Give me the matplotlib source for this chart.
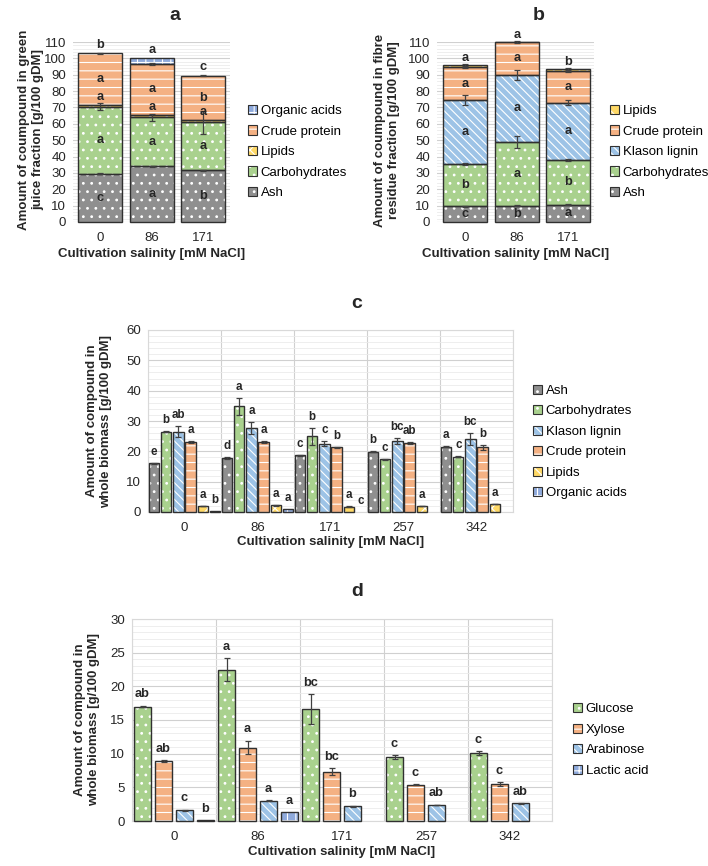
import matplotlib
matplotlib.use('Agg')
import matplotlib.pyplot as plt
from matplotlib.patches import Patch
from matplotlib.ticker import MultipleLocator
import numpy as np

plt.rcParams['font.family'] = ['Liberation Sans', 'DejaVu Sans']
plt.rcParams['hatch.linewidth'] = 0.8

# ---- panel a: green juice fraction (stacked) ----
salinity_ab = ['0', '86', '171']
juice_ash = [29.5, 34.0, 31.5]
juice_carbs = [41.0, 30.0, 29.5]
juice_lipids = [1.2, 1.5, 1.5]
juice_protein = [31.3, 31.0, 27.0]
juice_acids = [0.0, 3.5, 0.0]
juice_ash_err = [0.3, 0.3, 0.3]
juice_carbs_err = [2.0, 2.0, 7.0]
juice_protein_err = [0.5, 0.8, 0.5]
juice_ash_let = ['c', 'a', 'b']
juice_carbs_let = ['a', 'a', 'a']
juice_lipids_let = ['a', 'a', 'a']
juice_protein_let = ['a', 'a', 'b']
juice_top_let = ['b', 'a', 'c']

# ---- panel b: fibre residue fraction (stacked) ----
fibre_ash = [9.5, 10.0, 10.5]
fibre_carbs = [26.0, 39.0, 27.5]
fibre_klason = [39.0, 41.0, 35.0]
fibre_protein = [20.0, 20.0, 19.0]
fibre_lipids = [1.5, 0.3, 1.5]
fibre_ash_err = [0.3, 0.3, 0.3]
fibre_carbs_err = [0.4, 3.5, 0.5]
fibre_klason_err = [3.0, 3.0, 1.5]
fibre_protein_err = [0.3, 0.7, 0.3]
fibre_lipids_err = [0.5, 0.0, 0.5]
fibre_ash_let = ['c', 'b', 'a']
fibre_carbs_let = ['b', 'a', 'b']
fibre_klason_let = ['a', 'a', 'a']
fibre_protein_let = ['a', 'a', 'a']
fibre_lipids_let = ['a', 'a', 'b']

# ---- panel c: whole biomass composition ----
salinity_cd = ['0', '86', '171', '257', '342']
c_names = ['Ash', 'Carbohydrates', 'Klason lignin', 'Crude protein', 'Lipids', 'Organic acids']
c_vals = [
    [16.0, 17.8, 18.7, 19.9, 21.5],
    [26.5, 34.8, 25.0, 17.4, 18.2],
    [26.5, 27.8, 22.5, 23.5, 24.0],
    [23.0, 23.0, 21.3, 22.7, 21.3],
    [2.0, 2.2, 1.8, 2.0, 2.6],
    [0.2, 1.1, 0.0, 0.0, 0.0],
]
c_errs = [
    [0.2, 0.2, 0.2, 0.2, 0.2],
    [0.2, 2.8, 2.8, 0.2, 0.2],
    [1.8, 2.0, 0.8, 1.0, 2.0],
    [0.3, 0.3, 0.2, 0.3, 0.8],
    [0.1, 0.1, 0.1, 0.1, 0.1],
    [0.0, 0.0, 0.0, 0.0, 0.0],
]
c_lets = [
    ['e', 'd', 'c', 'b', 'a'],
    ['b', 'a', 'b', 'c', 'c'],
    ['ab', 'a', 'c', 'bc', 'bc'],
    ['a', 'a', 'b', 'ab', 'b'],
    ['a', 'a', 'a', 'a', 'a'],
    ['b', 'a', 'c', '', ''],
]

# ---- panel d: sugars in whole biomass ----
d_names = ['Glucose', 'Xylose', 'Arabinose', 'Lactic acid']
d_vals = [
    [17.0, 22.5, 16.6, 9.5, 10.05],
    [8.9, 10.9, 7.3, 5.4, 5.5],
    [1.6, 3.0, 2.2, 2.4, 2.6],
    [0.1, 1.3, 0.0, 0.0, 0.0],
]
d_errs = [
    [0.1, 1.7, 2.2, 0.3, 0.3],
    [0.1, 1.0, 0.5, 0.1, 0.3],
    [0.05, 0.1, 0.05, 0.05, 0.05],
    [0.0, 0.0, 0.0, 0.0, 0.0],
]
d_lets = [
    ['ab', 'a', 'bc', 'c', 'c'],
    ['ab', 'a', 'bc', 'c', 'c'],
    ['c', 'a', 'b', 'ab', 'ab'],
    ['b', 'a', '', '', ''],
]

# styles (colour, hatch)
sty = {
    'Ash': ('#8f8f8f', '..'),
    'Carbohydrates': ('#a9d18e', '..'),
    'Klason lignin': ('#9dc3e6', '\\\\\\\\'),
    'Crude protein': ('#f4b183', '--'),
    'Lipids': ('#ffd966', 'xx'),
    'Organic acids': ('#8faadc', '++'),
    'Glucose': ('#a9d18e', '..'),
    'Xylose': ('#f4b183', '--'),
    'Arabinose': ('#9dc3e6', '\\\\\\\\'),
    'Lactic acid': ('#8faadc', '++'),
}
EDGE = '#303030'
TXT = '#262626'


def hbar(ax, x, h, w, name, bottom=0):
    col, hat = sty[name]
    x = np.asarray(x, float)
    h = np.asarray(h, float)
    bottom = np.broadcast_to(np.asarray(bottom, float), h.shape)
    keep = h > 0
    if not keep.any():
        return
    ax.bar(x[keep], h[keep], w, bottom=bottom[keep], color=col, hatch=hat,
           edgecolor='white', linewidth=0, zorder=2, clip_on=False)
    ax.bar(x[keep], h[keep], w, bottom=bottom[keep], fill=False, edgecolor=EDGE,
           linewidth=1.0, zorder=3, clip_on=False)


def handle(name):
    col, hat = sty[name]
    return (Patch(facecolor=col, hatch=hat, edgecolor='white', linewidth=0),
            Patch(fill=False, edgecolor=EDGE, linewidth=0.8))


def style_axes(ax, major, minor, box):
    ax.set_axisbelow(True)
    ax.yaxis.set_major_locator(MultipleLocator(major))
    ax.yaxis.set_minor_locator(MultipleLocator(minor))
    ax.grid(axis='y', which='major', color='#d0d0d0', linewidth=0.8)
    ax.grid(axis='y', which='minor', color='#ebebeb', linewidth=0.6)
    ax.tick_params(which='both', length=0, labelsize=9.5, colors=TXT)
    ax.tick_params(axis='y', pad=5)
    ax.tick_params(axis='x', pad=7)
    for s in ax.spines.values():
        s.set_visible(box)
        s.set_color('#d9d9d9')


def err(ax, x, y, e):
    e = np.asarray(e, float)
    keep = e > 0
    if not keep.any():
        return
    ax.errorbar(np.asarray(x)[keep], np.asarray(y)[keep], yerr=e[keep], fmt='none',
                ecolor='#404040', elinewidth=0.9, capsize=2.5, capthick=0.9,
                zorder=4, clip_on=False)


def letter(ax, x, y, s, size=9.2):
    ax.text(x, y, s, ha='center', va='center', fontsize=size,
            fontweight='bold', color=TXT, zorder=5)


fig = plt.figure(figsize=(7.08, 8.66), dpi=100)


def frac(l, t, r, b):
    return [l / 708, 1 - b / 866, (r - l) / 708, (b - t) / 866]


ax_a = fig.add_axes(frac(73, 42, 230, 222))
ax_b = fig.add_axes(frac(437, 42, 594, 222))
ax_c = fig.add_axes(frac(148, 330, 513, 512))
ax_d = fig.add_axes(frac(132, 619, 552, 821))

xlab = 'Cultivation salinity [mM NaCl]'
W = 0.85
leg_kw = dict(loc='center left', bbox_transform=fig.transFigure, frameon=False,
              fontsize=9.5, handlelength=0.7, handleheight=0.7, handletextpad=0.25,
              labelspacing=0.62, borderpad=0, borderaxespad=0)

# ---- a ----
x = np.arange(len(salinity_ab))
a1 = np.array(juice_ash)
a2 = a1 + juice_carbs
a3 = a2 + juice_lipids
a4 = a3 + juice_protein
a5 = a4 + juice_acids
hbar(ax_a, x, juice_ash, W, 'Ash')
hbar(ax_a, x, juice_carbs, W, 'Carbohydrates', a1)
hbar(ax_a, x, juice_lipids, W, 'Lipids', a2)
hbar(ax_a, x, juice_protein, W, 'Crude protein', a3)
hbar(ax_a, x, juice_acids, W, 'Organic acids', a4)
err(ax_a, x, a1, juice_ash_err)
err(ax_a, x, a2, juice_carbs_err)
err(ax_a, x, a4, juice_protein_err)
for i in range(len(x)):
    letter(ax_a, x[i], a1[i] / 2, juice_ash_let[i])
    letter(ax_a, x[i], (a1[i] + a2[i]) / 2, juice_carbs_let[i])
    letter(ax_a, x[i], a3[i] + 4.5, juice_lipids_let[i])
    letter(ax_a, x[i], (a3[i] + a4[i]) / 2, juice_protein_let[i])
    letter(ax_a, x[i], a5[i] + 5, juice_top_let[i])
ax_a.set_ylim(0, 110)
ax_a.set_xlim(-0.53, 2.52)
ax_a.set_xticks(x, salinity_ab)
style_axes(ax_a, 10, 2, False)
ax_a.set_xlabel(xlab, fontsize=9.5, fontweight='bold', color=TXT, labelpad=3)
names_a = ['Organic acids', 'Crude protein', 'Lipids', 'Carbohydrates', 'Ash']
ax_a.legend([handle(n) for n in names_a], names_a,
            bbox_to_anchor=(248 / 708, 1 - 152 / 866), **leg_kw)
fig.text(31 / 708, 1 - 130 / 866, 'Amount of coumpound in green\njuice fraction [g/100 gDM]',
         rotation=90, ha='center', va='center', fontsize=9.5, fontweight='bold',
         color=TXT, multialignment='center')
fig.text(175 / 708, 1 - 15 / 866, 'a', ha='center', va='center', fontsize=14,
         fontweight='bold', color=TXT)

# ---- b ----
b1 = np.array(fibre_ash)
b2 = b1 + fibre_carbs
b3 = b2 + fibre_klason
b4 = b3 + fibre_protein
b5 = b4 + fibre_lipids
hbar(ax_b, x, fibre_ash, W, 'Ash')
hbar(ax_b, x, fibre_carbs, W, 'Carbohydrates', b1)
hbar(ax_b, x, fibre_klason, W, 'Klason lignin', b2)
hbar(ax_b, x, fibre_protein, W, 'Crude protein', b3)
hbar(ax_b, x, fibre_lipids, W, 'Lipids', b4)
err(ax_b, x, b1, fibre_ash_err)
err(ax_b, x, b2, fibre_carbs_err)
err(ax_b, x, b3, fibre_klason_err)
err(ax_b, x, b4, fibre_protein_err)
err(ax_b, x, b5, fibre_lipids_err)
for i in range(len(x)):
    letter(ax_b, x[i], b1[i] / 2, fibre_ash_let[i])
    letter(ax_b, x[i], (b1[i] + b2[i]) / 2, fibre_carbs_let[i])
    letter(ax_b, x[i], (b2[i] + b3[i]) / 2, fibre_klason_let[i])
    letter(ax_b, x[i], (b3[i] + b4[i]) / 2, fibre_protein_let[i])
    letter(ax_b, x[i], b5[i] + 4, fibre_lipids_let[i])
ax_b.set_ylim(0, 110)
ax_b.set_xlim(-0.55, 2.5)
ax_b.set_xticks(x, salinity_ab)
style_axes(ax_b, 10, 2, False)
ax_b.set_xlabel(xlab, fontsize=9.5, fontweight='bold', color=TXT, labelpad=3)
names_b = ['Lipids', 'Crude protein', 'Klason lignin', 'Carbohydrates', 'Ash']
ax_b.legend([handle(n) for n in names_b], names_b,
            bbox_to_anchor=(610 / 708, 1 - 152 / 866), **leg_kw)
fig.text(387 / 708, 1 - 130 / 866, 'Amount of coumpound in fibre\nresidue fraction [g/100 gDM]',
         rotation=90, ha='center', va='center', fontsize=9.5, fontweight='bold',
         color=TXT, multialignment='center')
fig.text(539 / 708, 1 - 15 / 866, 'b', ha='center', va='center', fontsize=14,
         fontweight='bold', color=TXT)

# ---- c ----
xc = np.arange(len(salinity_cd))
nc = len(c_names)
slot = 1.0 / nc
for k in range(nc):
    xs = xc + (k - (nc - 1) / 2) * slot
    hbar(ax_c, xs, c_vals[k], slot * 0.86, c_names[k])
    err(ax_c, xs, c_vals[k], c_errs[k])
    for i in range(len(xc)):
        letter(ax_c, xs[i], c_vals[k][i] + c_errs[k][i] + 3.6, c_lets[k][i], 8.4)
ax_c.set_ylim(0, 60)
ax_c.set_xlim(-0.5, len(xc) - 0.5)
ax_c.set_xticks(xc, salinity_cd)
ax_c.set_xticks(np.arange(-0.5, len(xc), 1), minor=True)
style_axes(ax_c, 10, 2, True)
ax_c.grid(axis='x', which='minor', color='#d0d0d0', linewidth=0.8)
ax_c.set_xlabel(xlab, fontsize=9.5, fontweight='bold', color=TXT, labelpad=2)
ax_c.legend([handle(n) for n in c_names], c_names,
            bbox_to_anchor=(533 / 708, 1 - 442 / 866), **leg_kw)
fig.text(99 / 708, 1 - 421 / 866, 'Amount of compound in\nwhole biomass [g/100 gDM]',
         rotation=90, ha='center', va='center', fontsize=9.5, fontweight='bold',
         color=TXT, multialignment='center')
fig.text(357 / 708, 1 - 303 / 866, 'c', ha='center', va='center', fontsize=14,
         fontweight='bold', color=TXT)

# ---- d ----
nd = len(d_names)
slot = 1.0 / nd
for k in range(nd):
    xs = xc + (k - (nd - 1) / 2) * slot
    hbar(ax_d, xs, d_vals[k], slot * 0.8, d_names[k])
    err(ax_d, xs, d_vals[k], d_errs[k])
    for i in range(len(xc)):
        letter(ax_d, xs[i], d_vals[k][i] + d_errs[k][i] + 1.7, d_lets[k][i])
ax_d.set_ylim(0, 30)
ax_d.set_xlim(-0.5, len(xc) - 0.5)
ax_d.set_xticks(xc, salinity_cd)
ax_d.set_xticks(np.arange(-0.5, len(xc), 1), minor=True)
style_axes(ax_d, 5, 1, True)
ax_d.grid(axis='x', which='minor', color='#d0d0d0', linewidth=0.8)
ax_d.set_xlabel(xlab, fontsize=9.5, fontweight='bold', color=TXT, labelpad=2)
ax_d.legend([handle(n) for n in d_names], d_names,
            bbox_to_anchor=(573 / 708, 1 - 740 / 866), **leg_kw)
fig.text(87 / 708, 1 - 720 / 866, 'Amount of compound in\nwhole biomass [g/100 gDM]',
         rotation=90, ha='center', va='center', fontsize=9.5, fontweight='bold',
         color=TXT, multialignment='center')
fig.text(357 / 708, 1 - 591 / 866, 'd', ha='center', va='center', fontsize=14,
         fontweight='bold', color=TXT)

fig.savefig('out.png', dpi=100)
